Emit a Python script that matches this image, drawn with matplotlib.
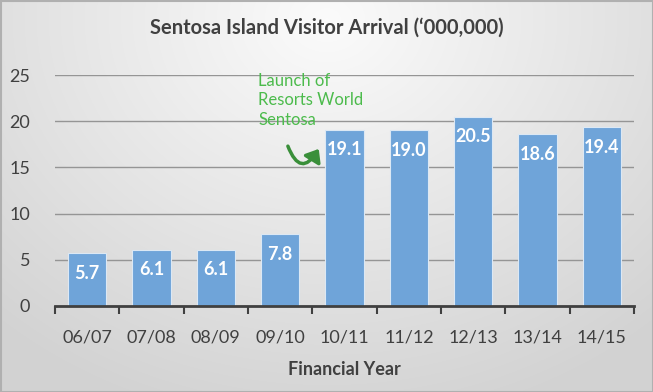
import numpy as np
import matplotlib
matplotlib.use("Agg")
import matplotlib.pyplot as plt
from matplotlib.patches import FancyArrowPatch

categories = ["06/07", "07/08", "08/09", "09/10", "10/11", "11/12", "12/13", "13/14", "14/15"]
values = [5.7, 6.1, 6.1, 7.8, 19.1, 19.0, 20.5, 18.6, 19.4]
yticks = [0, 5, 10, 15, 20, 25]

FONT = "Lato"
plt.rcParams["font.family"] = [FONT, "DejaVu Sans"]

W, H = 653, 392
fig = plt.figure(figsize=(W / 100, H / 100), dpi=100)

# gradient background
bg = fig.add_axes([0, 0, 1, 1], zorder=-10)
yy, xx = np.mgrid[0:H, 0:W]
cx, cy = W * 0.5, H * 0.05
r = np.sqrt(((xx - cx) / (W * 0.75)) ** 2 + ((yy - cy) / (H * 1.05)) ** 2)
r = np.clip(r, 0, 1)
val = 0.985 - 0.16 * r
img = np.dstack([val, val, val])
bg.imshow(img, aspect="auto", extent=[0, W, H, 0])
bg.plot([0.5, W - 0.5, W - 0.5, 0.5, 0.5], [0.5, 0.5, H - 0.5, H - 0.5, 0.5], color="#b0b0b0", lw=1.5)
bg.set_xlim(0, W)
bg.set_ylim(H, 0)
bg.axis("off")

ax = fig.add_axes([55 / W, 86 / H, (634 - 55) / W, (306 - 75) / H])
ax.patch.set_alpha(0)
x = np.arange(len(categories))
bars = ax.bar(x, values, width=0.6, color="#6fa4d9", edgecolor="#dce8f4", linewidth=0.8, zorder=3)
for xi, v in zip(x, values):
    ax.text(xi, v - 2.2, f"{v:.1f}", ha="center", va="center", color="white",
            fontsize=13, fontweight="bold", zorder=4)

ax.set_xlim(-0.5, len(categories) - 0.5)
ax.set_ylim(0, 25)
ax.set_yticks(yticks)
ax.set_yticklabels([str(t) for t in yticks], fontsize=13, color="#404040")
ax.yaxis.grid(True, color="#959595", linewidth=1.0, zorder=0)
ax.tick_params(axis="y", length=0, pad=18)
ax.set_xticks(x)
ax.set_xticklabels(categories, fontsize=13, color="#404040")
ax.set_xticks(np.arange(-0.5, len(categories)), minor=True)
ax.tick_params(axis="x", which="major", length=0, pad=17)
ax.tick_params(axis="x", which="minor", length=6, width=1.5, color="#404040", direction="out")
for s in ["top", "right", "left"]:
    ax.spines[s].set_visible(False)
ax.spines["bottom"].set_color("#404040")
ax.spines["bottom"].set_linewidth(2)
ax.spines["bottom"].set_zorder(5)
ax.set_xlabel("Financial Year", fontsize=13, fontweight="bold", color="#404040", labelpad=11)

fig.text(0.5, 1 - 28 / H, "Sentosa Island Visitor Arrival (\u2018000,000)", ha="center", va="center",
         fontsize=14.5, fontweight="bold", color="#404040")

ax.text(2.66, 25.2, "Launch of\nResorts World\nSentosa", ha="left", va="top", fontsize=12,
        color="#4cbb4c", linespacing=1.25, zorder=6)
arr = FancyArrowPatch((3.12, 17.3), (3.6, 17.0), connectionstyle="arc3,rad=1.0",
                      arrowstyle="-|>,head_length=3.5,head_width=2.8", color="#3a8f3a", lw=2.5,
                      mutation_scale=2, shrinkA=0, shrinkB=0, zorder=6)
ax.add_patch(arr)

fig.savefig("out.png", dpi=100)
